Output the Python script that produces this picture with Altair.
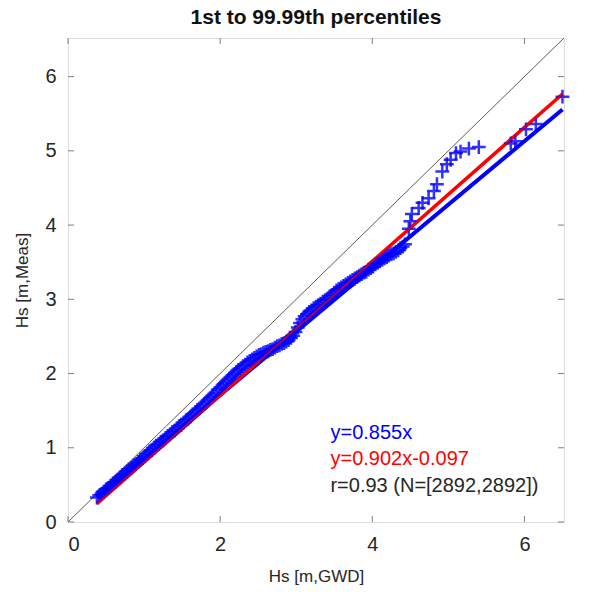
import altair as alt
import pandas as pd

# Quantile pairs (GWD, Meas), 1st to 99.99th percentiles
q_gwd = [0.38,0.41,0.44,0.47,0.50,0.53,0.56,0.59,0.62,0.65,0.68,0.71,0.74,0.77,0.80,0.83,0.86,0.89,0.92,0.95,0.98,1.01,
         1.04,1.07,1.10,1.13,1.16,1.19,1.22,1.25,1.28,1.31,1.34,1.37,1.40,1.43,1.46,1.49,1.52,1.55,1.58,1.61,1.64,1.67,
         1.70,1.73,1.76,1.79,1.82,1.85,1.88,1.91,1.94,1.97,2.00,
         2.03,2.06,2.09,2.12,2.15,2.18,2.21,2.24,2.27,2.30,2.33,2.36,2.39,2.42,2.45,2.48,2.51,2.54,2.57,2.60,2.63,2.66,
         2.69,2.72,2.75,2.78,2.81,2.84,2.87,2.90,2.93,2.96,2.99,3.02,
         3.05,3.08,3.11,3.14,3.17,3.20,3.23,3.26,3.29,3.32,3.35,3.38,3.41,3.44,3.47,3.50,3.53,3.56,3.59,3.62,3.65,3.68,
         3.71,3.74,3.77,3.80,3.83,3.86,3.89,3.92,3.95,3.98,4.01,4.04,4.07,4.10,4.13,4.16,4.19,4.22,4.25,4.28,4.31,4.34,
         4.37,4.40,4.43,
         4.48,4.50,4.52,4.61,4.66,4.74,4.81,4.85,4.92,4.98,5.03,5.10,5.16,5.27,5.40,5.82,5.88,6.02,6.15,6.50]
q_meas = [0.33,0.36,0.38,0.41,0.44,0.46,0.49,0.52,0.54,0.57,0.60,0.63,0.65,0.68,0.71,0.73,0.76,0.78,0.81,0.84,0.86,0.89,
          0.92,0.95,0.97,1.00,1.03,1.05,1.08,1.10,1.13,1.16,1.18,1.21,1.23,1.26,1.29,1.31,1.34,1.37,1.39,1.42,1.45,1.48,
          1.51,1.53,1.56,1.59,1.62,1.65,1.68,1.71,1.74,1.78,1.81,
          1.84,1.87,1.90,1.93,1.96,1.99,2.02,2.05,2.07,2.10,2.12,2.15,2.17,2.19,2.21,2.23,2.25,2.26,2.28,2.29,2.30,2.32,
          2.33,2.35,2.37,2.38,2.40,2.41,2.43,2.45,2.48,2.51,2.56,2.62,
          2.68,2.73,2.77,2.80,2.83,2.85,2.88,2.90,2.92,2.94,2.97,2.99,3.01,3.04,3.06,3.09,3.12,3.14,3.16,3.18,3.20,3.22,
          3.24,3.26,3.28,3.30,3.32,3.34,3.36,3.37,3.40,3.42,3.44,3.47,3.49,3.51,3.53,3.55,3.57,3.59,3.61,3.62,3.64,3.66,
          3.69,3.71,3.74,
          3.95,4.05,4.15,4.23,4.30,4.36,4.46,4.55,4.72,4.82,4.88,4.97,4.99,5.03,5.05,5.10,5.13,5.29,5.36,5.73]

# Fit lines (end points)
fit_x = [0.38, 6.50]
blue_fit_y = [0.325, 5.558]
red_fit_y = [0.246, 5.766]
diag_v = [0.0, 6.52]

x_ticks = [0, 2, 4, 6]
y_ticks = [0, 1, 2, 3, 4, 5, 6]

ann_text = ["y=0.855x", "y=0.902x-0.097", "r=0.93 (N=[2892,2892])"]
ann_y = [1.20, 0.85, 0.48]
ann_x = [3.45, 3.45, 3.45]
ann_col = ["#0000ff", "#ff0000", "#262626"]

W, H = 496, 484
DOM = [0, 6.52]
FONT = "Liberation Sans"

xs = alt.Scale(domain=DOM, nice=False, zero=False)
ys = alt.Scale(domain=DOM, nice=False, zero=False)

pts = pd.DataFrame({"x": q_gwd, "y": q_meas})
blue = pd.DataFrame({"x": fit_x, "y": blue_fit_y})
red = pd.DataFrame({"x": fit_x, "y": red_fit_y})
diag = pd.DataFrame({"x": diag_v, "y": diag_v})
ann = pd.DataFrame({"x": ann_x, "y": ann_y, "t": ann_text, "c": ann_col})
xt = pd.DataFrame({"v": x_ticks})
yt = pd.DataFrame({"v": y_ticks})

base_x = alt.X("x:Q", scale=xs, axis=alt.Axis(values=x_ticks, format="d", title="Hs [m,GWD]", grid=False,
               domain=False, ticks=False, labelFontSize=20, labelFont=FONT, labelColor="#262626",
               labelPadding=12, titleFont=FONT, titleFontSize=17, titleFontWeight="normal",
               titleColor="#262626", titlePadding=14))
base_y = alt.Y("y:Q", scale=ys, axis=alt.Axis(values=y_ticks, format="d", title="Hs [m,Meas]", grid=False,
               domain=False, ticks=False, labelFontSize=20, labelFont=FONT, labelColor="#262626",
               labelPadding=12, titleFont=FONT, titleFontSize=17, titleFontWeight="normal",
               titleColor="#262626", titleX=-37, titleBaseline="bottom"))

diag_layer = alt.Chart(diag).mark_line(color="#333333", strokeWidth=0.8).encode(
    x=alt.X("x:Q", scale=xs), y=alt.Y("y:Q", scale=ys))

blue_layer = alt.Chart(blue).mark_line(color="#0000ff", strokeWidth=4).encode(
    x=alt.X("x:Q", scale=xs), y=alt.Y("y:Q", scale=ys))
red_layer = alt.Chart(red).mark_line(color="#ff0000", strokeWidth=3.5).encode(
    x=alt.X("x:Q", scale=xs), y=alt.Y("y:Q", scale=ys))
red_thin = alt.Chart(red).mark_line(color="#ff0000", strokeWidth=1.6, opacity=0.75).encode(
    x=alt.X("x:Q", scale=xs), y=alt.Y("y:Q", scale=ys))

pts_layer = alt.Chart(pts).mark_point(
    shape="M-1,0H1M0,-1V1", size=190, filled=False, color="#0000ff", strokeWidth=2.5, opacity=0.8
).encode(x=base_x, y=base_y)

ann_layer = alt.Chart(ann).mark_text(align="left", baseline="middle", fontSize=20, font=FONT).encode(
    x=alt.X("x:Q", scale=xs), y=alt.Y("y:Q", scale=ys),
    text="t:N", color=alt.Color("c:N", scale=None))

TICK = 6
tk = "#7f7f7f"
xb = alt.Chart(xt).mark_rule(color=tk, strokeWidth=1).encode(
    x=alt.X("v:Q", scale=xs), y=alt.value(H), y2=alt.value(H - TICK))
xtop = alt.Chart(xt).mark_rule(color=tk, strokeWidth=1).encode(
    x=alt.X("v:Q", scale=xs), y=alt.value(0), y2=alt.value(TICK))
yl = alt.Chart(yt).mark_rule(color=tk, strokeWidth=1).encode(
    y=alt.Y("v:Q", scale=ys), x=alt.value(0), x2=alt.value(TICK))
yr = alt.Chart(yt).mark_rule(color=tk, strokeWidth=1).encode(
    y=alt.Y("v:Q", scale=ys), x=alt.value(W), x2=alt.value(W - TICK))

chart = alt.layer(
    diag_layer, blue_layer, red_layer, pts_layer, red_thin, ann_layer, xb, xtop, yl, yr
).properties(
    width=W, height=H,
    title=alt.TitleParams("1st to 99.99th percentiles", font=FONT, fontSize=21, fontWeight="bold",
                          color="#111111", anchor="middle", offset=8),
    autosize=alt.AutoSizeParams(type="none"),
    padding={"left": 68, "top": 38, "right": 34, "bottom": 73},
).configure_view(
    stroke="#7f7f7f", strokeWidth=1.5
).configure(background="white")

chart.save("out.html", embed_options={"renderer": "svg", "actions": False})
